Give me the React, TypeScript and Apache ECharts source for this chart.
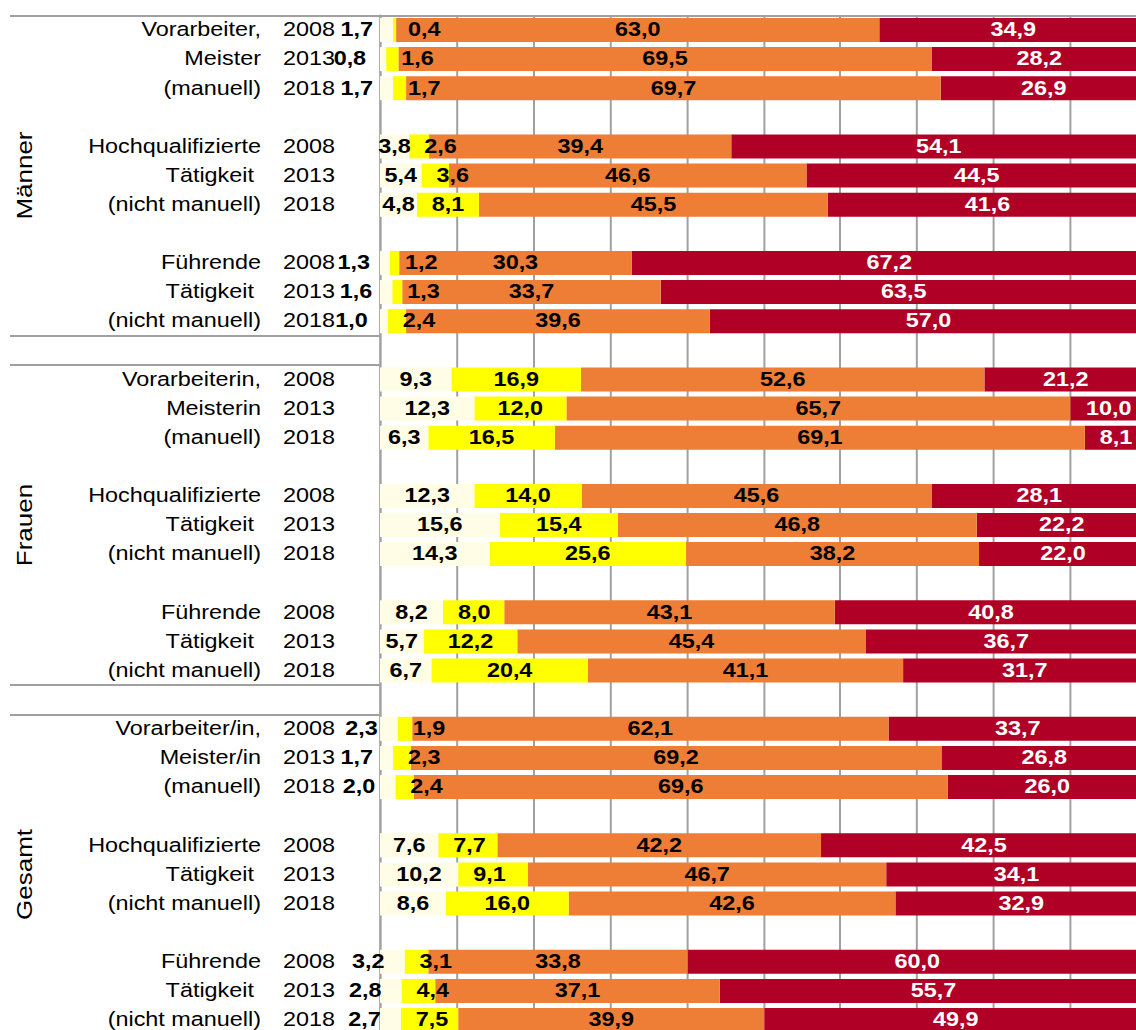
import React, { useEffect, useRef } from "react";
import * as echarts from "echarts";

// ---------- data ----------
const groupNames = ["Männer", "Frauen", "Gesamt"];
const jobLabels = [
  [
    ["Vorarbeiter,", "Meister", "(manuell)"],
    ["Hochqualifizierte", "Tätigkeit", "(nicht manuell)"],
    ["Führende", "Tätigkeit", "(nicht manuell)"],
  ],
  [
    ["Vorarbeiterin,", "Meisterin", "(manuell)"],
    ["Hochqualifizierte", "Tätigkeit", "(nicht manuell)"],
    ["Führende", "Tätigkeit", "(nicht manuell)"],
  ],
  [
    ["Vorarbeiter/in,", "Meister/in", "(manuell)"],
    ["Hochqualifizierte", "Tätigkeit", "(nicht manuell)"],
    ["Führende", "Tätigkeit", "(nicht manuell)"],
  ],
];
const years = ["2008", "2013", "2018"];

// 27 rows: group -> job -> year
const share1 = [1.7, 0.8, 1.7, 3.8, 5.4, 4.8, 1.3, 1.6, 1.0, 9.3, 12.3, 6.3, 12.3, 15.6, 14.3, 8.2, 5.7, 6.7, 2.3, 1.7, 2.0, 7.6, 10.2, 8.6, 3.2, 2.8, 2.7];
const share2 = [0.4, 1.6, 1.7, 2.6, 3.6, 8.1, 1.2, 1.3, 2.4, 16.9, 12.0, 16.5, 14.0, 15.4, 25.6, 8.0, 12.2, 20.4, 1.9, 2.3, 2.4, 7.7, 9.1, 16.0, 3.1, 4.4, 7.5];
const share3 = [63.0, 69.5, 69.7, 39.4, 46.6, 45.5, 30.3, 33.7, 39.6, 52.6, 65.7, 69.1, 45.6, 46.8, 38.2, 43.1, 45.4, 41.1, 62.1, 69.2, 69.6, 42.2, 46.7, 42.6, 33.8, 37.1, 39.9];
const share4 = [34.9, 28.2, 26.9, 54.1, 44.5, 41.6, 67.2, 63.5, 57.0, 21.2, 10.0, 8.1, 28.1, 22.2, 22.0, 40.8, 36.7, 31.7, 33.7, 26.8, 26.0, 42.5, 34.1, 32.9, 60.0, 55.7, 49.9];
const seriesNames = ["Anteil 1", "Anteil 2", "Anteil 3", "Anteil 4"];
const xTicks = [0, 10, 20, 30, 40, 50, 60, 70, 80, 90, 100];

// ---------- layout helpers ----------
const SX = 1.2; // horizontal stretch of the picture
const px = (v: number) => v / SX;
const FONT = '"Liberation Sans", Arial, Helvetica, sans-serif';
const GRID = "#a0a0a0";

type Row = { key: string; group: number; name: string; year: string; idx: number | null };
const rows: Row[] = [];
groupNames.forEach((_, g) => {
  jobLabels[g].forEach((lines, j) => {
    years.forEach((y, k) => {
      rows.push({ key: "r" + rows.length, group: g, name: lines[k], year: y, idx: g * 9 + j * 3 + k });
    });
    if (j < 2) rows.push({ key: "r" + rows.length, group: g, name: "", year: "", idx: null });
  });
  if (g < groupNames.length - 1) rows.push({ key: "r" + rows.length, group: g, name: "", year: "", idx: null });
});
const groupStart = [0, 12, 24];
const sepTicks = [0, 11, 12, 23, 24];

const fmt = (v: any) => (typeof v === "number" ? v.toFixed(1).replace(".", ",") : "");

function App() {
  const ref = useRef<HTMLDivElement>(null);
  useEffect(() => {
    if (!ref.current) return;
    const chart = echarts.init(ref.current, null, { renderer: "svg" });

    const labelBase = {
      show: true,
      fontFamily: FONT,
      fontWeight: "bold" as const,
      fontSize: 19.5,
      formatter: (p: any) => fmt(p.value),
    };

    const rule1 = (v: number) => (v < 3.5 ? { position: "insideRight", distance: px(20) } : { position: "inside" });
    const rule2 = (v: number) => (v < 10 ? { position: "insideLeft", distance: px(15) } : { position: "inside" });
    const ruleC = () => ({ position: "inside" });

    const mk = (i: number, values: number[], color: string, labelColor: string, rule: (v: number) => any) => ({
      name: seriesNames[i],
      type: "bar",
      stack: "total",
      barWidth: 24,
      z: 10 - i,
      itemStyle: { color },
      label: { ...labelBase, color: labelColor },
      data: rows.map((r) =>
        r.idx == null ? "-" : { value: values[r.idx], label: rule(values[r.idx]) }
      ),
    });

    const txt = { fontSize: 19.5, fontFamily: FONT, color: "#000" };

    const option: any = {
      animation: false,
      backgroundColor: "#ffffff",
      grid: { left: px(380), top: 15.4, width: px(767), height: 35 * 29.12 },
      xAxis: {
        type: "value",
        position: "top",
        min: xTicks[0],
        max: xTicks[xTicks.length - 1],
        interval: xTicks[1] - xTicks[0],
        axisLine: { show: true, lineStyle: { color: GRID, width: 2 } },
        axisTick: { show: false },
        axisLabel: { show: false },
        splitLine: { show: true, lineStyle: { color: GRID, width: px(2) } },
      },
      yAxis: {
        type: "category",
        inverse: true,
        data: rows.map((r) => r.key),
        axisLine: { show: true, lineStyle: { color: GRID, width: px(2) } },
        axisTick: {
          show: true,
          length: px(370),
          interval: (index: number) => sepTicks.indexOf(index) >= 0,
          lineStyle: { color: GRID, width: 2 },
        },
        axisLabel: {
          interval: 0,
          margin: px(45),
          ...txt,
          formatter: (_v: string, index: number) => {
            const r = rows[index];
            if (!r || !r.name) return "";
            const tag = r.name === "Tätigkeit" ? "nt" : "n";
            return "{" + tag + "|" + r.name + "}{y|" + r.year + "}";
          },
          rich: {
            n: { ...txt, align: "right", padding: [0, px(22), 0, 0] },
            nt: { ...txt, align: "right", padding: [0, px(29), 0, 0] },
            y: { ...txt, align: "right" },
          },
        },
        splitLine: { show: false },
      },
      series: [
        mk(0, share1, "#fffde6", "#000", rule1),
        mk(1, share2, "#ffff00", "#000", rule2),
        mk(2, share3, "#ee7d35", "#000", ruleC),
        mk(3, share4, "#b10026", "#fff", ruleC),
      ],
    };
    chart.setOption(option);

    const graphics = groupNames.map((g, gi) => {
      const y = chart.convertToPixel({ yAxisIndex: 0 } as any, rows[groupStart[gi] + 5].key) as number;
      return {
        type: "text",
        x: px(24),
        y,
        rotation: Math.PI / 2,
        scaleY: 0.72,
        style: {
          text: g,
          fontSize: 26,
          fontFamily: FONT,
          fill: "#000",
          align: "center",
          verticalAlign: "middle",
          textAlign: "center",
          textVerticalAlign: "middle",
        },
      };
    });
    chart.setOption({ graphic: graphics });

    return () => chart.dispose();
  }, []);

  return (
    <div
      style={{
        position: "fixed",
        left: 0,
        top: 0,
        width: 1136,
        height: 1030,
        overflow: "hidden",
        background: "#fff",
      }}
    >
      <div
        ref={ref}
        style={{
          width: 967,
          height: 1060,
          transform: `scaleX(${SX})`,
          transformOrigin: "0 0",
        }}
      />
    </div>
  );
}

export default App;
